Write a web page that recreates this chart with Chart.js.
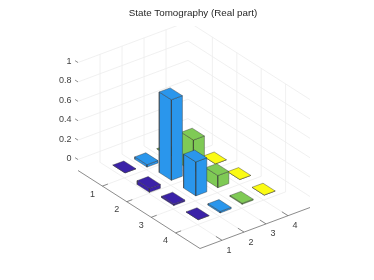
<!DOCTYPE html>
<html>
<head>
<meta charset="utf-8">
<title>State Tomography (Real part)</title>
<script src="https://cdn.jsdelivr.net/npm/chart.js@4"></script>
<style>
  html, body { margin: 0; padding: 0; background: #fff; }
  canvas { display: block; }
</style>
</head>
<body>
<canvas id="tomography" width="374" height="280"></canvas>
<script>
// ========== DATA ========== //
const rowLabels = ["1", "2", "3", "4"];
const colLabels = ["1", "2", "3", "4"];
const zTicks = [0, 0.2, 0.4, 0.6, 0.8, 1];

const col1Values = [0.0, -0.04, -0.015, 0.0];
const col2Values = [-0.025, 0.83, 0.35, -0.015];
const col3Values = [0.0, 0.33, 0.125, -0.01];
const col4Values = [0.0, 0.0, 0.0, 0.0];
const allCols = [col1Values, col2Values, col3Values, col4Values];

const barColors = ["#3b22a8", "#2a96ec", "#7fca55", "#fbfb14"];

// ========== PROJECTION ========== //
// fixed view of the 3d box, gives the 2d position on the hidden x/y scales
const view = { x0: 78, y0: 170.5, ux: 24.4, uy: 15.6, vx: 22, vy: -8.2, zy: 97, zFloor: -0.113, uvMax: 5 };
const BAR = 0.25; // half bar width

function project(u, v, z) {
  return {
    x: view.x0 + u * view.ux + v * view.vx,
    y: view.y0 + u * view.uy + v * view.vy - (z - view.zFloor) * view.zy
  };
}

// ========== DATASETS ========== //
function gridLine(a, b) {
  return {
    data: [project(...a), project(...b)],
    borderColor: "#ececec", borderWidth: 0.8, pointRadius: 0, fill: false
  };
}

function axisLine(a, b) {
  return {
    data: [project(...a), project(...b)],
    borderColor: "#6e6e6e", borderWidth: 0.8, pointRadius: 0, fill: false
  };
}

function face(points, color) {
  const data = points.map(p => project(...p));
  data.push(data[0]);
  return {
    data,
    backgroundColor: color, borderColor: "rgba(50,50,50,0.7)", borderWidth: 0.6,
    pointRadius: 0, fill: "shape", tension: 0
  };
}

function buildBar(u, v, h, colIdx) {
  const l = u - BAR, r = u + BAR, b = v - BAR, f = v + BAR;
  const lo = Math.min(0, h), hi = Math.max(0, h);
  const color = barColors[colIdx];
  return [
    face([[l, b, lo], [r, b, lo], [r, b, hi], [l, b, hi]], color),
    face([[r, b, lo], [r, f, lo], [r, f, hi], [r, b, hi]], color),
    face([[l, b, hi], [r, b, hi], [r, f, hi], [l, f, hi]], color)
  ];
}

function buildDatasets() {
  const zTop = zTicks[zTicks.length - 1];
  const back = [];

  // walls and floor
  zTicks.forEach(z => {
    back.push(gridLine([0, 0, z], [0, view.uvMax, z]));
    back.push(gridLine([0, view.uvMax, z], [view.uvMax, view.uvMax, z]));
  });
  rowLabels.forEach((_, i) => {
    const t = i + 1;
    back.push(gridLine([t, view.uvMax, view.zFloor], [t, view.uvMax, zTop]));
    back.push(gridLine([t, 0, view.zFloor], [t, view.uvMax, view.zFloor]));
    back.push(gridLine([0, t, view.zFloor], [0, t, zTop]));
    back.push(gridLine([0, t, view.zFloor], [view.uvMax, t, view.zFloor]));
  });

  // axis lines with their ticks
  back.push(axisLine([0, 0, view.zFloor], [view.uvMax, 0, view.zFloor]));
  back.push(axisLine([view.uvMax, 0, view.zFloor], [view.uvMax, view.uvMax, view.zFloor]));
  rowLabels.forEach((_, i) => {
    back.push(axisLine([i + 1, 0, view.zFloor], [i + 1, 0.25, view.zFloor]));
    back.push(axisLine([view.uvMax, i + 1, view.zFloor], [view.uvMax - 0.25, i + 1, view.zFloor]));
  });
  zTicks.forEach(z => back.push(axisLine([-0.12, 0, z], [0, 0, z])));

  // bars, far ones first
  const cells = [];
  allCols.forEach((col, c) => col.forEach((h, r) => cells.push({ u: r + 1, v: c + 1, h, c })));
  cells.sort((a, b) => (a.u - a.v) - (b.u - b.v));
  cells.forEach(cell => back.push(...buildBar(cell.u, cell.v, cell.h, cell.c)));

  // chart.js paints the first dataset last
  return back.reverse();
}

// ========== TICK LABELS ========== //
const tickLabelPlugin = {
  id: "tickLabels",
  afterDatasetsDraw(chart) {
    const { ctx, scales } = chart;
    const put = (text, p, dx, dy, align) => {
      ctx.textAlign = align;
      ctx.fillText(text, scales.x.getPixelForValue(p.x) + dx, scales.y.getPixelForValue(p.y) + dy);
    };
    ctx.save();
    ctx.font = "9px 'Liberation Sans'";
    ctx.fillStyle = "#404040";
    ctx.textBaseline = "middle";
    zTicks.forEach(z => put(String(z), project(0, 0, z), -6.5, -1, "right"));
    rowLabels.forEach((t, i) => put(t, project(i + 1, 0, view.zFloor), -10, 8, "center"));
    colLabels.forEach((t, i) => put(t, project(view.uvMax, i + 1, view.zFloor), 7, 10, "center"));
    ctx.restore();
  }
};

// ========== RENDER ========== //
const TITLE_H = 26;
const LEFT_PAD = 12; // the title sits right of the canvas centre

new Chart(document.getElementById("tomography"), {
  type: "line",
  data: { datasets: buildDatasets() },
  plugins: [tickLabelPlugin],
  options: {
    responsive: false,
    animation: false,
    layout: { padding: { left: LEFT_PAD } },
    scales: {
      x: { type: "linear", display: false, min: LEFT_PAD, max: 374 },
      y: { type: "linear", display: false, min: TITLE_H, max: 280, reverse: true }
    },
    plugins: {
      legend: { display: false },
      tooltip: { enabled: false },
      title: {
        display: true,
        text: "State Tomography (Real part)",
        color: "#262626",
        font: { family: "'Liberation Sans'", size: 9.8, weight: "normal", lineHeight: 1.2 },
        padding: { top: 7, bottom: 26 - 7 - 11.76 }
      }
    }
  }
});
</script>
</body>
</html>
